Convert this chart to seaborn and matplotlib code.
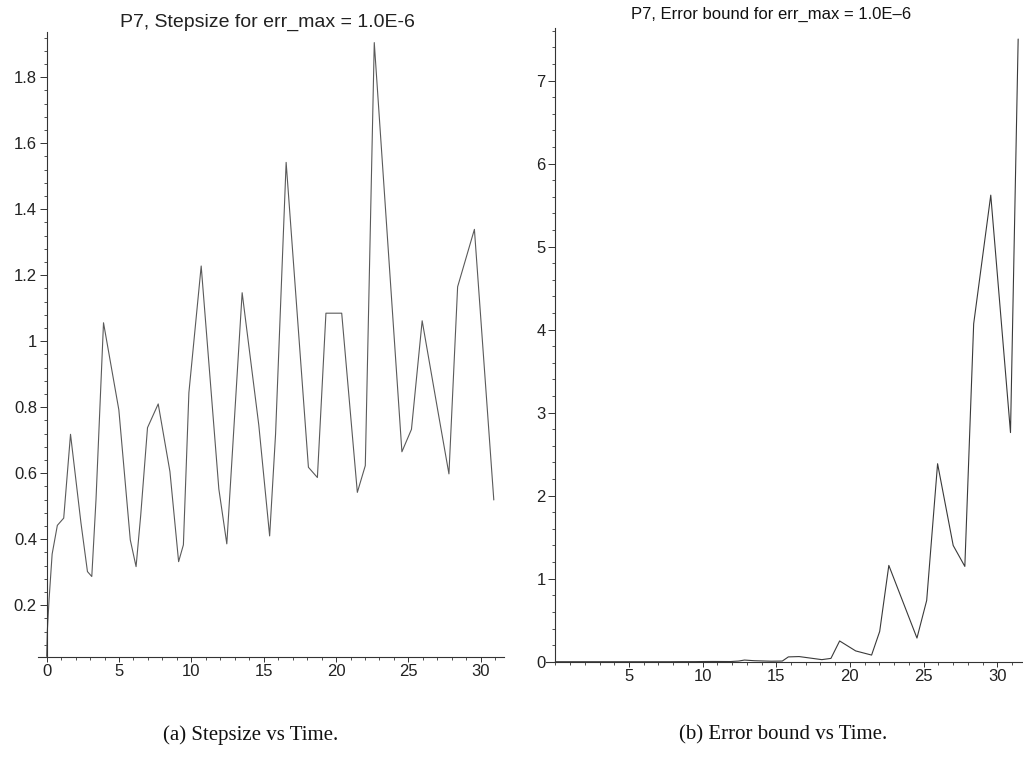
import matplotlib
matplotlib.use("Agg")
import matplotlib.pyplot as plt
from matplotlib.ticker import MultipleLocator, FixedLocator, FuncFormatter
import seaborn as sns

# Accepted step times t_i and the stepsize h_i taken from each of them
time = [0.0, 0.045, 0.165, 0.38, 0.74, 1.18, 1.65, 2.37, 2.82, 3.12,
        3.41, 3.93, 4.99, 5.78, 6.18, 6.50, 6.97, 7.71, 8.52, 9.12,
        9.45, 9.83, 10.68, 11.90, 12.45, 12.84, 13.51, 14.66, 15.41, 15.82,
        16.55, 18.09, 18.71, 19.30, 20.39, 21.47, 22.02, 22.64, 24.55, 25.21,
        25.95, 27.01, 27.80, 28.40, 29.56, 30.90]
stepsize = [0.045, 0.12, 0.215, 0.355, 0.442, 0.464, 0.718, 0.45, 0.302, 0.287,
            0.519, 1.056, 0.792, 0.398, 0.317, 0.472, 0.738, 0.81, 0.605, 0.332,
            0.383, 0.844, 1.228, 0.552, 0.386, 0.666, 1.147, 0.746, 0.41, 0.719,
            1.542, 0.618, 0.587, 1.085, 1.085, 0.542, 0.623, 1.905, 0.665, 0.733,
            1.062, 0.795, 0.598, 1.165, 1.339, 0.519]

# Error bound at the same times, plus the final time point
err_time = time + [31.42]
err_bound = [0, 0, 0, 0, 0, 0, 0, 0, 0, 0,
             0, 0, 0, 0, 0, 0, 0, 0, 0.001, 0.001,
             0.001, 0.002, 0.003, 0.002, 0.008, 0.02, 0.012, 0.006, 0.008, 0.058,
             0.062, 0.025, 0.04, 0.25, 0.13, 0.08, 0.365, 1.16, 0.285, 0.738,
             2.385, 1.40, 1.148, 4.07, 5.62, 2.76, 7.5]

left_xticks = [0, 5, 10, 15, 20, 25, 30]
left_yticks = [0.2, 0.4, 0.6, 0.8, 1.0, 1.2, 1.4, 1.6, 1.8]
right_xticks = [5, 10, 15, 20, 25, 30]
right_yticks = [0, 1, 2, 3, 4, 5, 6, 7]

sns.set_style("ticks")
plt.rcParams['font.family'] = ['Liberation Sans', 'DejaVu Sans']

fig = plt.figure(figsize=(10.23, 7.83), dpi=100)
ax1 = fig.add_axes([0.0371, 0.1613, 0.4555, 0.7982])
ax2 = fig.add_axes([0.5342, 0.1549, 0.4651, 0.809])

sns.lineplot(x=time, y=stepsize, ax=ax1, color="#5a5a5a", linewidth=0.8,
             estimator=None, sort=False)
sns.lineplot(x=err_time, y=err_bound, ax=ax2, color="#3a3a3a", linewidth=0.8,
             estimator=None, sort=False)

fmt = FuncFormatter(lambda v, p: f"{v:g}")

for ax in (ax1, ax2):
    ax.spines['top'].set_visible(False)
    ax.spines['right'].set_visible(False)
    ax.spines['left'].set_position(('data', 0))
    for s in ('left', 'bottom'):
        ax.spines[s].set_linewidth(0.8)
        ax.spines[s].set_color('#333333')
    ax.set_facecolor('white')
    ax.xaxis.set_minor_locator(MultipleLocator(1))
    ax.xaxis.set_major_formatter(fmt)
    ax.yaxis.set_major_formatter(fmt)
    ax.tick_params(axis='x', which='major', length=3.5, width=0.7, color='#333333',
                   pad=2, labelsize=12, labelcolor='#222222')
    ax.tick_params(axis='x', which='minor', length=2.2, width=0.6, color='#333333')
    ax.tick_params(axis='y', which='major', length=5, width=0.7, color='#333333',
                   pad=2, labelsize=12, labelcolor='#222222')
    ax.tick_params(axis='y', which='minor', length=2.2, width=0.6, color='#333333')
    ax.set_xlabel('')
    ax.set_ylabel('')

ax1.set_xlim(-0.6, 31.6)
ax1.set_ylim(0.044, 1.938)
ax1.xaxis.set_major_locator(FixedLocator(left_xticks))
ax1.yaxis.set_major_locator(FixedLocator(left_yticks))
ax1.yaxis.set_minor_locator(MultipleLocator(0.04))

ax2.set_xlim(-0.6, 31.7)
ax2.set_ylim(0, 7.63)
ax2.xaxis.set_major_locator(FixedLocator(right_xticks))
ax2.yaxis.set_major_locator(FixedLocator(right_yticks))
ax2.yaxis.set_minor_locator(MultipleLocator(0.2))

fig.text(0.261, 0.972, "P7, Stepsize for err_max = 1.0E-6",
         ha='center', va='center', fontsize=14, color='#222222')
fig.text(0.754, 0.981, "P7, Error bound for err_max = 1.0E\u20136",
         ha='center', va='center', fontsize=12, color='#111111')

fig.text(0.245, 0.061, "(a) Stepsize vs Time.", ha='center', va='center',
         fontsize=15, family=['Liberation Serif', 'DejaVu Serif'], color='#111111')
fig.text(0.766, 0.061, "(b) Error bound vs Time.", ha='center', va='center',
         fontsize=15, family=['Liberation Serif', 'DejaVu Serif'], color='#111111')

fig.savefig("out.png", dpi=100, facecolor='white')
